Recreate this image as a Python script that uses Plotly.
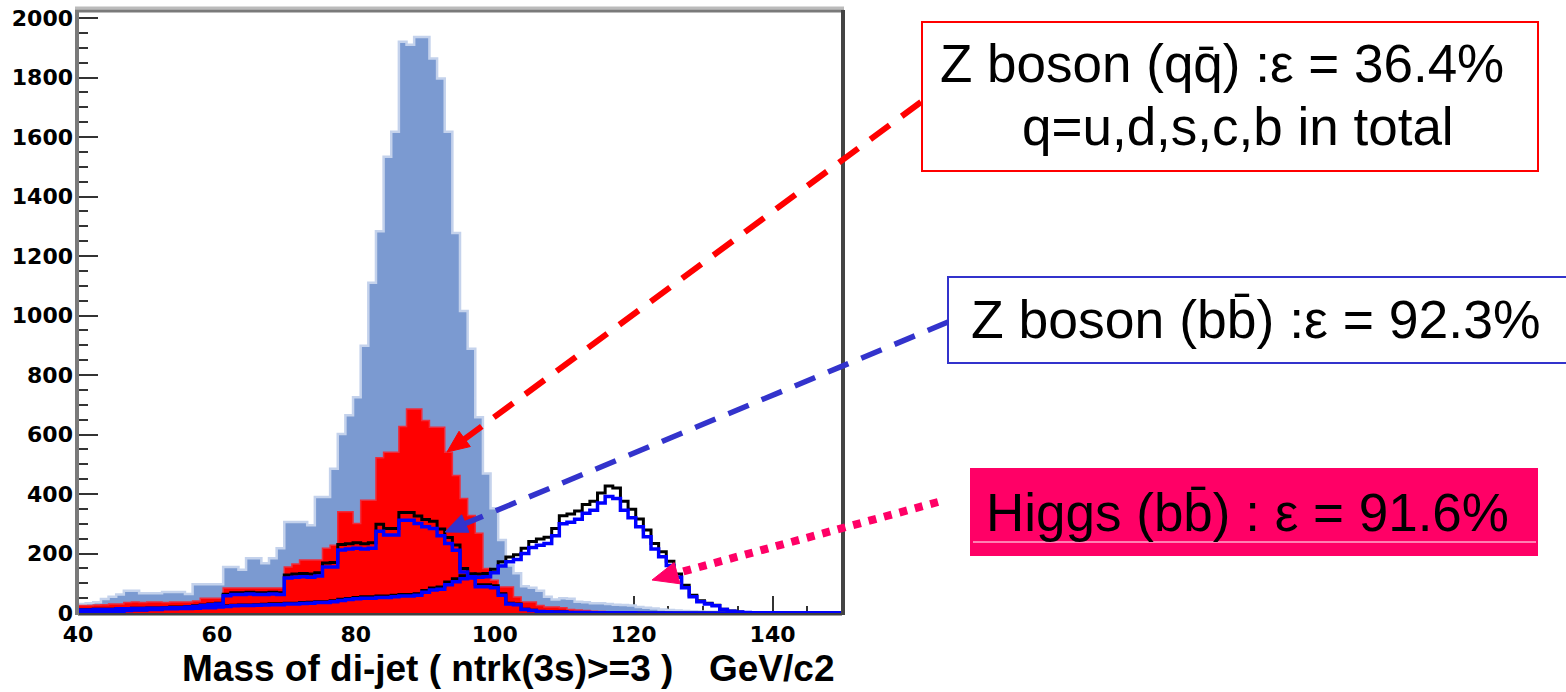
import numpy as np
import plotly.graph_objects as go

# ---------------------------------------------------------------------------
# Di-jet invariant mass, 100 bins from 40 to 150 GeV/c2 (1.1 GeV per bin)
# ---------------------------------------------------------------------------
X_MIN, X_MAX, N_BINS = 40.0, 150.0, 100
bin_edges = np.linspace(X_MIN, X_MAX, N_BINS + 1)

# Z -> qq (all flavours), before the b-tag requirement
zqq_all = [
    30, 33, 36, 47, 55, 62, 75, 75, 66, 66,
    66, 71, 71, 71, 64, 97, 97, 97, 97, 155,
    155, 145, 184, 184, 167, 184, 218, 306, 306, 306,
    295, 390, 390, 485, 602, 665, 725, 898, 1110, 1283,
    1534, 1618, 1920, 1910, 1936, 1936, 1864, 1797, 1618, 1277,
    1015, 888, 658, 469, 352, 245, 160, 134, 90, 85,
    75, 55, 45, 50, 48, 38, 36, 33, 33, 30,
    28, 27, 25, 20, 18, 15, 12, 10, 8, 7,
    6, 5, 4, 4, 3, 3, 3, 2, 2, 2,
    2, 2, 1, 1, 1, 1, 1, 1, 1, 1,
]
# Z -> qq after ntrk(3s) >= 3
zqq_sel = [
    25, 25, 27, 28, 30, 30, 35, 37, 35, 37,
    37, 35, 37, 37, 37, 40, 50, 50, 50, 84,
    84, 84, 84, 84, 84, 84, 84, 155, 165, 178,
    178, 178, 218, 228, 340, 340, 301, 379, 379, 522,
    540, 540, 627, 686, 686, 647, 624, 624, 540, 462,
    385, 328, 268, 150, 110, 87, 87, 54, 37, 37,
    25, 20, 20, 18, 12, 10, 8, 6, 5, 4,
    3, 2, 2, 2, 1, 1, 1, 1, 1, 1,
    1, 1, 0, 0, 0, 0, 0, 0, 0, 0,
    0, 0, 0, 0, 0, 0, 0, 0, 0, 0,
]
# Z -> bb, before / after the cut
zbb_all = [
    11, 11, 13, 13, 13, 15, 15, 16, 16, 17,
    17, 18, 20, 20, 22, 24, 27, 30, 33, 63,
    68, 68, 70, 68, 68, 70, 68, 128, 131, 133,
    131, 135, 168, 170, 230, 233, 236, 233, 236, 298,
    284, 284, 338, 338, 326, 314, 308, 282, 254, 229,
    150, 132, 95, 95, 92, 65, 33, 30, 13, 9,
    5, 4, 3, 3, 2, 2, 2, 1, 1, 1,
    1, 1, 1, 0, 0, 0, 0, 0, 0, 0,
    0, 0, 0, 0, 0, 0, 0, 0, 0, 0,
    0, 0, 0, 0, 0, 0, 0, 0, 0, 0,
]
zbb_sel = [
    10, 10, 12, 12, 12, 14, 14, 15, 15, 16,
    16, 17, 18, 18, 20, 22, 25, 28, 30, 58,
    62, 62, 64, 62, 62, 64, 62, 118, 120, 122,
    120, 124, 155, 155, 212, 215, 218, 215, 218, 275,
    262, 262, 312, 312, 301, 290, 284, 260, 234, 211,
    138, 122, 88, 88, 85, 60, 30, 28, 12, 8,
    5, 4, 3, 3, 2, 2, 2, 1, 1, 1,
    1, 1, 1, 0, 0, 0, 0, 0, 0, 0,
    0, 0, 0, 0, 0, 0, 0, 0, 0, 0,
    0, 0, 0, 0, 0, 0, 0, 0, 0, 0,
]
# Higgs -> bb, before / after the cut
hbb_all = [
    4, 4, 5, 5, 5, 7, 9, 11, 11, 13,
    13, 15, 15, 16, 16, 17, 20, 20, 22, 24,
    26, 27, 27, 28, 29, 31, 31, 33, 33, 35,
    36, 38, 38, 41, 46, 49, 52, 55, 55, 57,
    57, 60, 62, 62, 65, 76, 84, 87, 104, 115,
    125, 129, 131, 133, 147, 172, 188, 196, 218, 240,
    249, 255, 284, 327, 333, 343, 365, 376, 403, 427,
    420, 376, 349, 316, 279, 234, 206, 174, 131, 93,
    60, 41, 33, 26, 13, 7, 3, 2, 1, 1,
    1, 1, 0, 0, 0, 0, 0, 0, 0, 0,
]
hbb_sel = [
    4, 4, 5, 5, 5, 6, 8, 10, 10, 12,
    12, 14, 14, 15, 15, 16, 18, 18, 20, 22,
    24, 25, 25, 26, 27, 28, 28, 30, 30, 32,
    33, 35, 35, 38, 42, 45, 48, 50, 50, 52,
    52, 55, 57, 57, 60, 70, 77, 80, 95, 105,
    115, 118, 120, 122, 135, 158, 172, 180, 200, 220,
    228, 234, 260, 300, 305, 315, 335, 345, 370, 392,
    385, 345, 320, 290, 256, 215, 189, 160, 120, 85,
    55, 38, 30, 24, 12, 6, 3, 2, 1, 1,
    1, 1, 0, 0, 0, 0, 0, 0, 0, 0,
]

x_tick_vals = [40, 60, 80, 100, 120, 140]
y_tick_vals = list(range(0, 2001, 200))

# Annotation texts
label_zqq_1 = "Z boson (qq\u0304) :\u03b5 = 36.4%"
label_zqq_2 = "q=u,d,s,c,b in total"
label_zbb = "Z boson (bb\u0304) :\u03b5 = 92.3%"
label_hbb = "Higgs (bb\u0304) : \u03b5 = 91.6%"
axis_title = "Mass of di-jet ( ntrk(3s)>=3 )"
axis_unit = "GeV/c2"

# ---------------------------------------------------------------------------
W, H = 1566, 692
PLOT_L, PLOT_R, PLOT_T, PLOT_B = 78, 842, 10, 613


def px(x):
    return x / W


def py(y):
    return 1 - y / H


def step(vals):
    return list(bin_edges), list(vals) + [vals[-1]]


fig = go.Figure()

x, y = step(zqq_all)
fig.add_trace(go.Scatter(x=x, y=y, mode="lines", line_shape="hv", fill="tozeroy",
                         fillcolor="#7B9AD1", line=dict(color="#C4D2EC", width=2.5)))
x, y = step(zqq_sel)
fig.add_trace(go.Scatter(x=x, y=y, mode="lines", line_shape="hv", fill="tozeroy",
                         fillcolor="#FF0000", line=dict(color="#EE2C3C", width=1.5)))
for vals in (zbb_all, hbb_all):
    x, y = step(vals)
    fig.add_trace(go.Scatter(x=x, y=y, mode="lines", line_shape="hv",
                             line=dict(color="#000000", width=3)))
for vals in (zbb_sel, hbb_sel):
    x, y = step(vals)
    fig.add_trace(go.Scatter(x=x, y=y, mode="lines", line_shape="hv",
                             line=dict(color="#0000FF", width=3.5)))

TICK_FONT = dict(family="DejaVu Sans", size=22, color="#000000", weight="bold")
SANS = "Liberation Sans, Arial, sans-serif"

fig.update_xaxes(
    range=[X_MIN, X_MAX], domain=[px(PLOT_L), px(PLOT_R)], automargin=False,
    tickmode="array", tickvals=x_tick_vals, ticktext=[str(v) for v in x_tick_vals],
    ticks="inside", ticklen=17, tickwidth=2, tickcolor="#333333", ticklabelstandoff=6,
    minor=dict(ticks="inside", dtick=5, tick0=40, ticklen=7, tickwidth=2, tickcolor="#333333"),
    showgrid=False, zeroline=False, showline=False, tickfont=TICK_FONT, layer="below traces",
)
fig.update_yaxes(
    range=[0, 2027], domain=[py(PLOT_B), py(PLOT_T)], automargin=False,
    tickmode="array", tickvals=y_tick_vals, ticktext=[str(v) for v in y_tick_vals],
    ticks="inside", ticklen=20, tickwidth=2, tickcolor="#333333", ticklabelstandoff=4,
    minor=dict(ticks="inside", dtick=50, tick0=0, ticklen=10, tickwidth=2, tickcolor="#333333"),
    showgrid=False, zeroline=False, showline=False, tickfont=TICK_FONT,
)

shapes = []
# frame of the histogram pad
shapes.append(dict(type="line", xref="paper", yref="paper", layer="below",
                   x0=px(PLOT_L), x1=px(PLOT_R), y0=py(PLOT_B + 1), y1=py(PLOT_B + 1),
                   line=dict(color="#404040", width=3)))
shapes.append(dict(type="line", xref="paper", yref="paper",
                   x0=px(PLOT_L - 1), x1=px(PLOT_L - 1), y0=py(PLOT_T), y1=py(PLOT_B + 2),
                   line=dict(color="#7A7A7A", width=4)))
shapes.append(dict(type="line", xref="paper", yref="paper",
                   x0=px(PLOT_L - 3), x1=px(PLOT_R + 2), y0=py(PLOT_T - 2), y1=py(PLOT_T - 2),
                   line=dict(color="#BBBBBB", width=3)))
shapes.append(dict(type="line", xref="paper", yref="paper",
                   x0=px(PLOT_L - 3), x1=px(PLOT_R + 2), y0=py(PLOT_T + 1), y1=py(PLOT_T + 1),
                   line=dict(color="#7A7A7A", width=3)))
shapes.append(dict(type="line", xref="paper", yref="paper",
                   x0=px(PLOT_R + 1), x1=px(PLOT_R + 1), y0=py(PLOT_T), y1=py(PLOT_B + 2),
                   line=dict(color="#444444", width=4)))


def arrow(start, tip, color, width, dash, head_len, head_w):
    sx, sy = start
    tx, ty = tip
    dx, dy = tx - sx, ty - sy
    n = (dx * dx + dy * dy) ** 0.5
    ux, uy = dx / n, dy / n
    bx, by = tx - ux * head_len, ty - uy * head_len
    shapes.append(dict(type="line", xref="paper", yref="paper",
                       x0=px(sx), y0=py(sy), x1=px(bx + ux * 2), y1=py(by + uy * 2),
                       line=dict(color=color, width=width, dash=dash)))
    nx, ny = -uy, ux
    p1 = (bx + nx * head_w / 2, by + ny * head_w / 2)
    p2 = (bx - nx * head_w / 2, by - ny * head_w / 2)
    path = "M {} {} L {} {} L {} {} Z".format(px(tx), py(ty), px(p1[0]), py(p1[1]),
                                             px(p2[0]), py(p2[1]))
    shapes.append(dict(type="path", xref="paper", yref="paper", path=path,
                       fillcolor=color, line=dict(color=color, width=1)))


arrow((921, 102), (447, 452), "#FF0000", 6, "24px,15px", 22, 19)
arrow((948, 322), (445, 532), "#3333CC", 5.5, "22px,14px", 22, 19)
arrow((938, 502), (652, 580), "#FF0066", 8, "8px,8px", 26, 22)

# label boxes
shapes.append(dict(type="rect", xref="paper", yref="paper",
                   x0=px(922), x1=px(1538), y0=py(22), y1=py(171),
                   fillcolor="#FFFFFF", line=dict(color="#FF0000", width=2)))
shapes.append(dict(type="rect", xref="paper", yref="paper",
                   x0=px(948), x1=px(1580), y0=py(277), y1=py(363),
                   fillcolor="#FFFFFF", line=dict(color="#3333CC", width=2)))
shapes.append(dict(type="rect", xref="paper", yref="paper",
                   x0=px(970), x1=px(1538), y0=py(468), y1=py(556),
                   fillcolor="#FF0066", line=dict(width=0)))
shapes.append(dict(type="line", xref="paper", yref="paper",
                   x0=px(973), x1=px(1536), y0=py(542), y1=py(542),
                   line=dict(color="#FFFFFF", width=1)))

annotations = []


def text(s, x, y, size, family=SANS, weight="normal", anchor="left"):
    annotations.append(dict(text=s, x=px(x), y=py(y), xref="paper", yref="paper",
                            xanchor=anchor, yanchor="middle", showarrow=False,
                            font=dict(family=family, size=size, color="#000000", weight=weight)))


text(label_zqq_1, 938, 64, 53)
text(label_zqq_2, 1020, 127, 53)
text(label_zbb, 969, 319, 53.5)
text(label_hbb, 984, 512, 53)
text(axis_title, 180, 668, 37, weight="bold")
text(axis_unit, 707, 668, 37, weight="bold")

fig.update_layout(
    width=W, height=H, autosize=False,
    margin=dict(l=0, r=0, t=0, b=0),
    paper_bgcolor="#FFFFFF", plot_bgcolor="#FFFFFF",
    showlegend=False, shapes=shapes, annotations=annotations,
)

fig.write_html("out.html")
